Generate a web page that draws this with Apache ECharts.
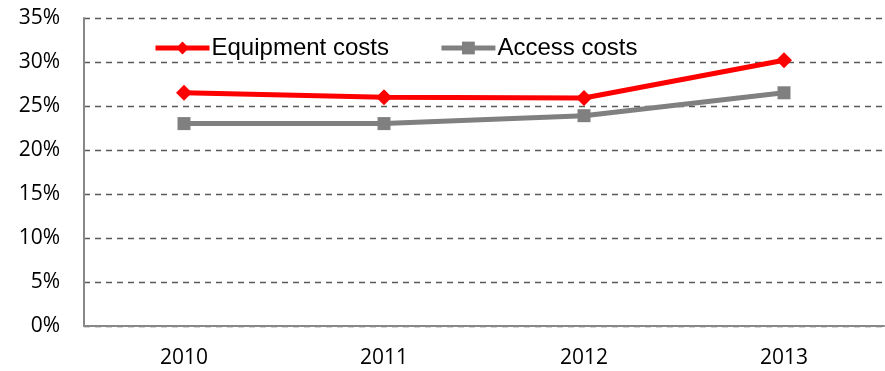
<!DOCTYPE html>
<html><head><meta charset="utf-8">
<script src="https://cdn.jsdelivr.net/npm/echarts@6/dist/echarts.min.js"></script>
<style>html,body{margin:0;padding:0;background:#fff}#c{width:885px;height:371px}</style>
</head><body><div id="c"></div>
<script>
var categories = ['2010','2011','2012','2013'];
var equipmentCosts = [26.5, 26.0, 25.9, 30.2];
var accessCosts = [23.0, 23.0, 23.9, 26.5];
var chart = echarts.init(document.getElementById('c'));
chart.setOption({
  animation:false,
  backgroundColor:'#ffffff',
  grid:{left:84,top:18,width:800,height:308},
  legend:{
    left:148, top:31, itemWidth:54, itemHeight:16, itemGap:50,
    lineStyle:{width:5},
    textStyle:{fontFamily:'Liberation Sans', fontSize:24, color:'#000', padding:[0,0,0,-3]},
    data:['Equipment costs','Access costs']
  },
  xAxis:{type:'category',data:categories,boundaryGap:true,
    axisLine:{lineStyle:{color:'#888',width:2}},axisTick:{show:false},
    axisLabel:{fontFamily:'Open Sans',fontSize:21,color:'#000',margin:22}},
  yAxis:{type:'value',min:0,max:35,interval:5,
    axisLine:{show:true,lineStyle:{color:'#888',width:2}},
    splitLine:{lineStyle:{color:'#595959',type:[6,5],width:1.3}},
    axisLabel:{formatter:'{value}%',fontFamily:'Open Sans',fontSize:21,color:'#000',margin:24}},
  series:[
    {name:'Equipment costs',type:'line',data:equipmentCosts,symbol:'diamond',symbolSize:16,
     lineStyle:{color:'#ff0000',width:5},itemStyle:{color:'#ff0000'}},
    {name:'Access costs',type:'line',data:accessCosts,symbol:'rect',symbolSize:13,
     lineStyle:{color:'#808080',width:5},itemStyle:{color:'#808080'}}
  ]
});
</script></body></html>
